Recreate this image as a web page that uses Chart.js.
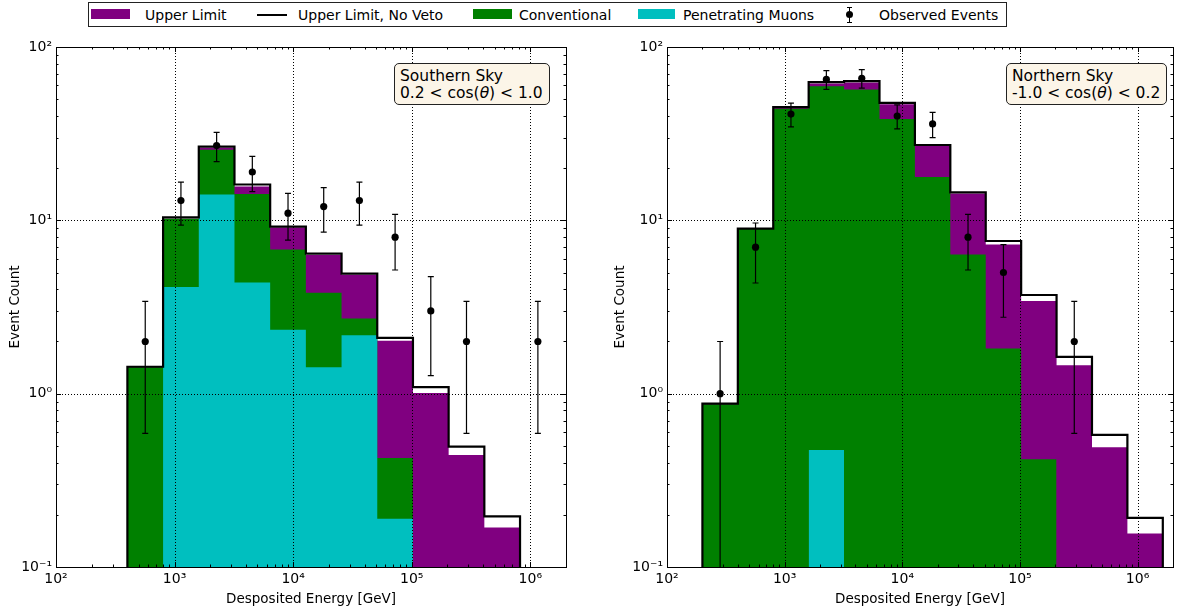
<!DOCTYPE html>
<html>
<head>
<meta charset="utf-8">
<script src="https://cdn.jsdelivr.net/npm/chart.js@4.4.1/dist/chart.umd.min.js"></script>
<style>
  body { margin: 0; background: #fff; width: 1177px; height: 614px; overflow: hidden; position: relative;
         font-family: "DejaVu Sans", sans-serif; color: #000; }
  .panel { position: absolute; top: 0; height: 614px; }
  #legend { position: absolute; left: 88px; top: 2px; width: 917px; height: 23px; border: 1px solid #222; background: #fff; }
  #legend span { position: absolute; }
  #legend .txt { top: 3px; font-size: 14px; line-height: 18px; white-space: nowrap; }
  .infobox { position: absolute; top: 63px; background: #fcf5e8; border: 1px solid #222; border-radius: 5px;
             padding: 4px 6px 3px 5px; font-size: 15.5px; line-height: 16.5px; white-space: nowrap; }
</style>
</head>
<body>

<div id="legend">
  <span style="left:2px;top:6px;width:39px;height:10px;background:#800080"></span>
  <span class="txt" style="left:56px">Upper Limit</span>
  <span style="left:168px;top:11px;width:30px;height:2px;background:#000"></span>
  <span class="txt" style="left:209px">Upper Limit, No Veto</span>
  <span style="left:384px;top:6px;width:39px;height:10px;background:#008000"></span>
  <span class="txt" style="left:430px">Conventional</span>
  <span style="left:549px;top:6px;width:37px;height:10px;background:#00bfbf"></span>
  <span class="txt" style="left:594px">Penetrating Muons</span>
  <span style="left:760px;top:4px;width:1px;height:16px;background:#000"></span>
  <span style="left:758px;top:4px;width:5px;height:1px;background:#000"></span>
  <span style="left:758px;top:19px;width:5px;height:1px;background:#000"></span>
  <span style="left:757px;top:8px;width:7px;height:7px;border-radius:50%;background:#000"></span>
  <span class="txt" style="left:790px">Observed Events</span>
</div>

<div class="panel" style="left:0;width:580px"><canvas id="south"></canvas></div>
<div class="panel" style="left:605px;width:572px"><canvas id="north"></canvas></div>

<div class="infobox" style="left:394px">Southern Sky<br>0.2 &lt; cos(<i>θ</i>) &lt; 1.0</div>
<div class="infobox" style="left:1006px">Northern Sky<br>-1.0 &lt; cos(<i>θ</i>) &lt; 0.2</div>

<script>
// energy bins, factor-2 wide (GeV)
const binEdges = [200, 400, 800, 1600, 3200, 6400, 12800, 25600, 51200, 102400, 204800, 409600, 819200, 1638400];

// Southern sky
const southUpper  = [0, 1.42, 10.2, 26.2, 15.7, 9.1, 6.3, 4.85, 2.02, 1.01, 0.443, 0.169, 0];
const southNoVeto = [0, 1.43, 10.4, 26.6, 16.1, 9.2, 6.42, 4.93, 2.10, 1.09, 0.495, 0.196, 0];
const southConv   = [0, 1.42, 10.2, 25.5, 14.2, 6.78, 3.82, 2.71, 0.425, 0, 0, 0, 0];
const southMuon   = [0, 0, 4.12, 14.1, 4.38, 2.34, 1.42, 2.17, 0.19, 0, 0, 0, 0];
const southObs    = [0, 2, 13, 27, 19, 11, 12, 13, 8, 3, 2, 0, 2];
const southErr    = [0, 1.41, 3.61, 5.2, 4.36, 3.32, 3.46, 3.61, 2.83, 1.73, 1.41, 0, 1.41];

// Northern sky
const northUpper  = [0.87, 8.9, 44.5, 61.6, 62.3, 46.8, 26.9, 14.3, 7.25, 3.42, 1.46, 0.49, 0.156];
const northNoVeto = [0.875, 8.96, 45.0, 62.7, 63.5, 47.6, 27.2, 14.5, 7.6, 3.71, 1.63, 0.578, 0.192];
const northConv   = [0.87, 8.9, 44.0, 59.4, 56.9, 38.4, 17.8, 6.35, 1.82, 0.418, 0, 0, 0];
const northMuon   = [0, 0, 0, 0.473, 0, 0, 0, 0, 0, 0, 0, 0, 0];
const northObs    = [1, 7, 41, 65, 66, 40, 36, 8, 5, 0, 2, 0, 0];
const northErr    = [1, 2.65, 6.4, 8.06, 8.12, 6.32, 6.0, 2.83, 2.24, 0, 1.41, 0, 0];

// axes
const xTickValues = [1e2, 1e3, 1e4, 1e5, 1e6];
const xTickLabels = ['10²', '10³', '10⁴', '10⁵', '10⁶'];
const yTickValues = [0.1, 1, 10, 100];
const yTickLabels = ['10⁻¹', '10⁰', '10¹', '10²'];
const X_MIN = 100, X_MAX = 2e6, Y_MIN = 0.1, Y_MAX = 100;

const PURPLE = '#800080', GREEN = '#008000', CYAN = '#00bfbf';

// histogram -> stepped outline points
function stepPoints(vals) {
  const first = vals.findIndex(v => v > 0);
  let last = vals.length - 1;
  while (last > 0 && !(vals[last] > 0)) last--;
  const pts = [{ x: binEdges[first], y: Y_MIN }];
  for (let i = first; i <= last; i++) pts.push({ x: binEdges[i], y: vals[i] > 0 ? vals[i] : Y_MIN });
  pts.push({ x: binEdges[last + 1], y: Y_MIN });
  return pts;
}

function histFill(label, vals, color, order) {
  return { label, data: stepPoints(vals), stepped: true, fill: 'start', backgroundColor: color,
           borderWidth: 0, borderColor: color, pointRadius: 0, order };
}

function observed(counts, errs) {
  const data = [], err = [];
  counts.forEach((n, i) => {
    if (n > 0) {
      data.push({ x: Math.sqrt(binEdges[i] * binEdges[i + 1]), y: n });
      err.push(errs[i]);
    }
  });
  return { label: 'Observed Events', data, errors: err, showLine: false, pointRadius: 3.6,
           pointBackgroundColor: '#000', pointBorderWidth: 0, order: 1 };
}

function minorValues(lo, hi) {
  const out = [];
  for (let d = Math.floor(Math.log10(lo)); Math.pow(10, d) <= hi; d++) {
    for (let m = 2; m <= 9; m++) {
      const v = m * Math.pow(10, d);
      if (v > lo && v < hi) out.push(v);
    }
  }
  return out;
}

const axesPlugin = {
  id: 'axesPlugin',
  beforeDatasetDraw(chart, args) {
    const ds = chart.data.datasets[args.index];
    if (!ds.errors) return;
    const { ctx, chartArea: a, scales: { x, y } } = chart;
    ctx.save();
    ctx.beginPath();
    ctx.rect(a.left, a.top, a.right - a.left, a.bottom - a.top);
    ctx.clip();
    // dotted grid at decades
    ctx.strokeStyle = '#000';
    ctx.lineWidth = 1;
    ctx.setLineDash([1, 2]);
    xTickValues.forEach(v => {
      const px = Math.round(x.getPixelForValue(v)) + 0.5;
      if (px < a.left + 2 || px > a.right - 2) return;
      ctx.beginPath(); ctx.moveTo(px, a.top); ctx.lineTo(px, a.bottom); ctx.stroke();
    });
    yTickValues.forEach(v => {
      const py = Math.round(y.getPixelForValue(v)) + 0.5;
      if (py < a.top + 2 || py > a.bottom - 2) return;
      ctx.beginPath(); ctx.moveTo(a.left, py); ctx.lineTo(a.right, py); ctx.stroke();
    });
    ctx.setLineDash([]);
    // error bars
    ctx.lineWidth = 1.2;
    ds.data.forEach((p, i) => {
      const e = ds.errors[i];
      const px = x.getPixelForValue(p.x);
      const lo = p.y - e > 0 ? y.getPixelForValue(p.y - e) : a.bottom + 2;
      const hi = y.getPixelForValue(p.y + e);
      ctx.beginPath();
      ctx.moveTo(px, lo); ctx.lineTo(px, hi);
      ctx.moveTo(px - 3, hi); ctx.lineTo(px + 3, hi);
      if (p.y - e > 0) { ctx.moveTo(px - 3, lo); ctx.lineTo(px + 3, lo); }
      ctx.stroke();
    });
    ctx.restore();
  },
  afterDatasetsDraw(chart) {
    const { ctx, chartArea: a, scales: { x, y } } = chart;
    ctx.save();
    ctx.strokeStyle = '#000';
    ctx.lineWidth = 1;
    const tick = (vals, scale, len, horiz) => {
      vals.forEach(v => {
        const p = Math.round(scale.getPixelForValue(v)) + 0.5;
        ctx.beginPath();
        if (horiz) {
          ctx.moveTo(p, a.bottom); ctx.lineTo(p, a.bottom - len);
          ctx.moveTo(p, a.top); ctx.lineTo(p, a.top + len);
        } else {
          ctx.moveTo(a.left, p); ctx.lineTo(a.left + len, p);
          ctx.moveTo(a.right, p); ctx.lineTo(a.right - len, p);
        }
        ctx.stroke();
      });
    };
    tick(xTickValues, x, 5, true);
    tick(minorValues(X_MIN, X_MAX), x, 2.5, true);
    tick(yTickValues, y, 5, false);
    tick(minorValues(Y_MIN, Y_MAX), y, 2.5, false);
    ctx.strokeRect(Math.round(a.left) + 0.5, Math.round(a.top) + 0.5,
                   Math.round(a.right - a.left), Math.round(a.bottom - a.top));
    ctx.restore();
  }
};

function makeChart(id, yAxisWidth, padRight, upper, noVeto, conv, muon, obs, err) {
  const font = { family: 'DejaVu Sans', size: 14 };
  new Chart(document.getElementById(id), {
    type: 'line',
    data: {
      datasets: [
        observed(obs, err),
        { label: 'Upper Limit, No Veto', data: stepPoints(noVeto), stepped: true, fill: false,
          borderColor: '#000', borderWidth: 2.2, pointRadius: 0, order: 2 },
        histFill('Penetrating Muons', muon, CYAN, 3),
        histFill('Conventional', conv, GREEN, 4),
        histFill('Upper Limit', upper, PURPLE, 5)
      ]
    },
    options: {
      responsive: true,
      maintainAspectRatio: false,
      animation: false,
      layout: { padding: { top: 47, right: padRight, left: 0, bottom: 0 } },
      plugins: { legend: { display: false }, tooltip: { enabled: false } },
      scales: {
        x: {
          type: 'logarithmic', min: X_MIN, max: X_MAX,
          afterBuildTicks: s => { s.ticks = xTickValues.map(v => ({ value: v })); },
          afterFit: s => { s.height = 47; },
          grid: { display: false, drawTicks: false },
          border: { display: false },
          ticks: { font, color: '#000', padding: 4, autoSkip: false, maxRotation: 0,
                   callback: v => xTickLabels[xTickValues.indexOf(v)] },
          title: { display: true, text: 'Desposited Energy [GeV]', color: '#000',
                   font: { family: 'DejaVu Sans', size: 13.5 }, padding: { top: 0, bottom: 6 } }
        },
        y: {
          type: 'logarithmic', min: Y_MIN, max: Y_MAX,
          afterBuildTicks: s => { s.ticks = yTickValues.map(v => ({ value: v })); },
          afterFit: s => { s.width = yAxisWidth; },
          grid: { display: false, drawTicks: false },
          border: { display: false },
          ticks: { font, color: '#000', padding: 4, autoSkip: false,
                   callback: v => yTickLabels[yTickValues.indexOf(v)] },
          title: { display: true, text: 'Event Count', color: '#000',
                   font: { family: 'DejaVu Sans', size: 13.5 }, padding: { top: 7, bottom: 0 } }
        }
      }
    },
    plugins: [axesPlugin]
  });
}

makeChart('south', 56, 14, southUpper, southNoVeto, southConv, southMuon, southObs, southErr);
makeChart('north', 62, 1, northUpper, northNoVeto, northConv, northMuon, northObs, northErr);
</script>
</body>
</html>
